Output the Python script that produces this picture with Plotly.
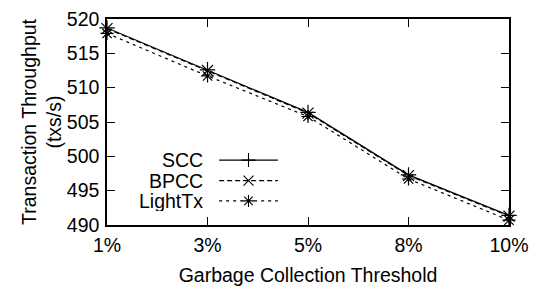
import plotly.graph_objects as go

thresholds = ["1%", "3%", "5%", "8%", "10%"]
scc = [518.7, 512.6, 506.4, 497.3, 491.4]
bpcc = [518.6, 512.5, 506.3, 497.2, 491.3]
lighttx = [517.9, 511.7, 505.8, 496.7, 490.7]
y_ticks = [490, 495, 500, 505, 510, 515, 520]

FONT = "Liberation Sans, Arial, Helvetica, sans-serif"
FS = 19.5
idx = list(range(len(thresholds)))

fig = go.Figure()
series = [
    ("SCC", scc, "solid", "cross-thin"),
    ("BPCC", bpcc, "5px,3px", "x-thin"),
    ("LightTx", lighttx, "3px,4px", "asterisk"),
]
for name, vals, dash, sym in series:
    fig.add_trace(go.Scatter(
        x=idx, y=vals, name=name, mode="lines+markers",
        line=dict(color="black", width=1.2, dash=dash),
        marker=dict(symbol=sym, size=11, color="black",
                    line=dict(color="black", width=1.2)),
        showlegend=False, cliponaxis=False,
    ))

# custom legend (gnuplot style: label, then line sample with marker)
leg_y = [0.315, 0.215, 0.117]
for (name, vals, dash, sym), yy in zip(series, leg_y):
    fig.add_annotation(xref="paper", yref="paper", x=0.245, y=yy, text=name,
                       showarrow=False, xanchor="right", yanchor="middle",
                       height=20, valign="middle",
                       font=dict(family=FONT, size=FS, color="black"))
    fig.add_shape(type="line", xref="paper", yref="paper", x0=0.279, x1=0.425,
                  y0=yy, y1=yy, line=dict(color="black", width=1.2, dash=dash))
    fig.add_trace(go.Scatter(
        x=[0.352], y=[yy], xaxis="x2", yaxis="y2", mode="markers",
        marker=dict(symbol=sym, size=10, color="black",
                    line=dict(color="black", width=1.1)),
        showlegend=False, hoverinfo="skip", cliponaxis=False,
    ))

fig.update_layout(
    width=532, height=281,
    margin=dict(l=99, r=31, t=11, b=64, autoexpand=False),
    paper_bgcolor="white", plot_bgcolor="white",
    font=dict(family=FONT, size=FS, color="black"),
    xaxis=dict(
        tickmode="array", tickvals=idx, ticktext=thresholds,
        range=[0, len(thresholds) - 1],
        showgrid=False, zeroline=False,
        showline=True, linecolor="black", linewidth=1.5, mirror="ticks",
        ticks="inside", ticklen=8, tickwidth=1.2, tickcolor="black",
        ticklabelstandoff=2, ticklabeloverflow="allow",
        title=dict(text="Garbage Collection Threshold", standoff=13,
                   font=dict(family=FONT, size=FS)),
    ),
    yaxis=dict(
        range=[490, 520], tickvals=y_ticks,
        showgrid=False, zeroline=False,
        showline=True, linecolor="black", linewidth=1.5, mirror="ticks",
        ticks="inside", ticklen=8, tickwidth=1.2, tickcolor="black",
        ticklabelstandoff=2, ticklabeloverflow="allow",
        title=dict(text="Transaction Throughput<br>(txs/s)", standoff=0,
                   font=dict(family=FONT, size=FS)),
    ),
    xaxis2=dict(overlaying="x", range=[0, 1], visible=False),
    yaxis2=dict(overlaying="y", range=[0, 1], visible=False),
)

fig.write_html("out.html")
